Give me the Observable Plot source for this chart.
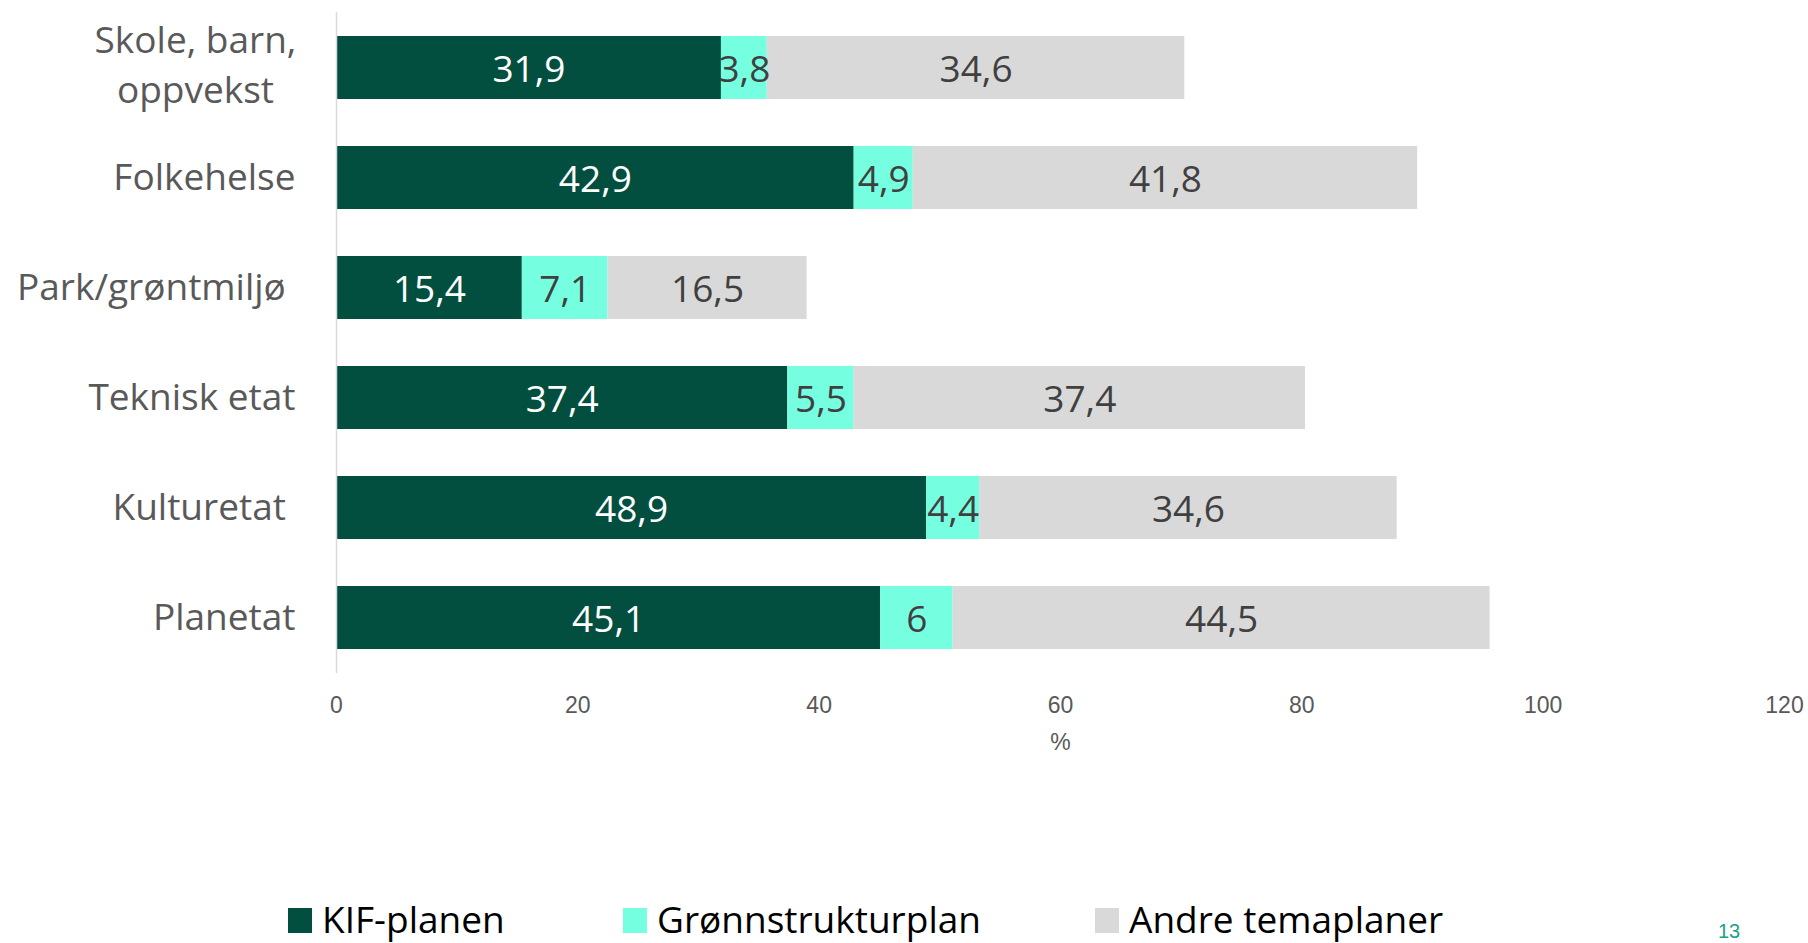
<!DOCTYPE html>
<html>
<head>
<meta charset="utf-8">
<script src="https://cdn.jsdelivr.net/npm/d3@7"></script>
<script src="https://cdn.jsdelivr.net/npm/@observablehq/plot@0.6"></script>
<style>
  html, body { margin: 0; padding: 0; background: #ffffff; }
  #wrap { position: relative; width: 1808px; height: 943px; overflow: hidden; background: #fff; }
  #chart { position: absolute; left: 0; top: 0; }
  #chart text { white-space: pre; }
  .leg { position: absolute; top: 899px; font-family: "Open Sans", sans-serif; font-size: 37px; line-height: 40px; color: #000; white-space: nowrap; }
  .leg .sw { display: inline-block; width: 24px; height: 25px; margin-right: 10px; vertical-align: baseline; }
  #page { position: absolute; left: 1718px; top: 921px; font-family: "Liberation Sans", Arial, sans-serif; font-size: 20px; line-height: 20px; color: #1aa088; }
</style>
</head>
<body>
<div id="wrap">
  <div id="chart"></div>
  <div id="legend"></div>
  <div id="page">13</div>
</div>
<script>
// ---- data ----
const categories = ["Skole, barn, oppvekst", "Folkehelse", "Park/grøntmiljø ", "Teknisk etat", "Kulturetat ", "Planetat"];
const categoryLabels = ["Skole, barn,\noppvekst", "Folkehelse", "Park/grøntmiljø ", "Teknisk etat", "Kulturetat ", "Planetat"];
const seriesNames = ["KIF-planen", "Grønnstrukturplan", "Andre temaplaner"];
const kifPlanen = [31.9, 42.9, 15.4, 37.4, 48.9, 45.1];
const gronnstrukturplan = [3.8, 4.9, 7.1, 5.5, 4.4, 6];
const andreTemaplaner = [34.6, 41.8, 16.5, 37.4, 34.6, 44.5];
const xTicks = [0, 20, 40, 60, 80, 100, 120];
const xLabel = "%";
const pageNumber = "13";
const colors = ["#024F40", "#75FFE0", "#D9D9D9"];

// ---- table ----
const seriesValues = [kifPlanen, gronnstrukturplan, andreTemaplaner];
const table = [];
categories.forEach((c, i) => {
  seriesNames.forEach((s, j) => {
    table.push({category: c, series: s, value: seriesValues[j][i]});
  });
});
const fmt = v => String(v).replace(".", ",");

const H = 890;
const plotBottom = 673;
const FONT = "Open Sans, sans-serif";
const FS = 37;

const chart = Plot.plot({
  width: 1808,
  height: H,
  marginLeft: 336,
  marginRight: 24,
  marginTop: 12,
  marginBottom: H - plotBottom,
  style: {fontFamily: FONT, background: "transparent", overflow: "visible"},
  x: {domain: [0, 120], ticks: xTicks, label: null},
  y: {domain: categories, paddingInner: 0.43, paddingOuter: 0.215, axis: null},
  color: {domain: seriesNames, range: colors},
  marks: [
    Plot.barX(table, Plot.stackX({x: "value", y: "category", fill: "series", z: "series"})),
    Plot.text(table, Plot.stackX({
      x: "value", y: "category", z: "series", dy: 2,
      text: d => d.series === seriesNames[0] ? fmt(d.value) : null,
      fill: "#ffffff", fontSize: FS, fontFamily: FONT
    })),
    Plot.text(table, Plot.stackX({
      x: "value", y: "category", z: "series", dy: 2,
      text: d => d.series !== seriesNames[0] ? fmt(d.value) : null,
      fill: "#404040", fontSize: FS, fontFamily: FONT
    })),
    Plot.ruleX([0], {stroke: "#d9d9d9", strokeWidth: 1.5}),
    Plot.axisX({
      ticks: xTicks, tickSize: 0, tickPadding: 23, label: null,
      fontSize: 23, fontFamily: "Liberation Sans, Arial, sans-serif", fill: "#595959"
    }),
    Plot.text([xLabel], {
      frameAnchor: "bottom", dy: 76, text: d => d,
      fontSize: 23, fontFamily: "Liberation Sans, Arial, sans-serif", fill: "#595959"
    }),
    Plot.axisY({
      ticks: categories.slice(1), tickSize: 0, tickPadding: 41, label: null,
      tickFormat: d => categoryLabels[categories.indexOf(d)],
      fontSize: FS, fontFamily: FONT, fill: "#595959"
    }),
    Plot.text([categories[0]], {
      y: d => d, frameAnchor: "left", dx: -141, dy: -6, textAnchor: "middle",
      text: d => categoryLabels[categories.indexOf(d)], lineHeight: 1.35,
      fontSize: FS, fontFamily: FONT, fill: "#595959"
    })
  ]
});
document.getElementById("chart").appendChild(chart);

// ---- legend ----
const legendLefts = [288, 623, 1095];
const legend = document.getElementById("legend");
seriesNames.forEach((s, i) => {
  const item = document.createElement("div");
  item.className = "leg";
  item.style.left = legendLefts[i] + "px";
  const sw = document.createElement("span");
  sw.className = "sw";
  sw.style.background = colors[i];
  item.appendChild(sw);
  item.appendChild(document.createTextNode(s));
  legend.appendChild(item);
});
document.getElementById("page").textContent = pageNumber;
</script>
</body>
</html>
